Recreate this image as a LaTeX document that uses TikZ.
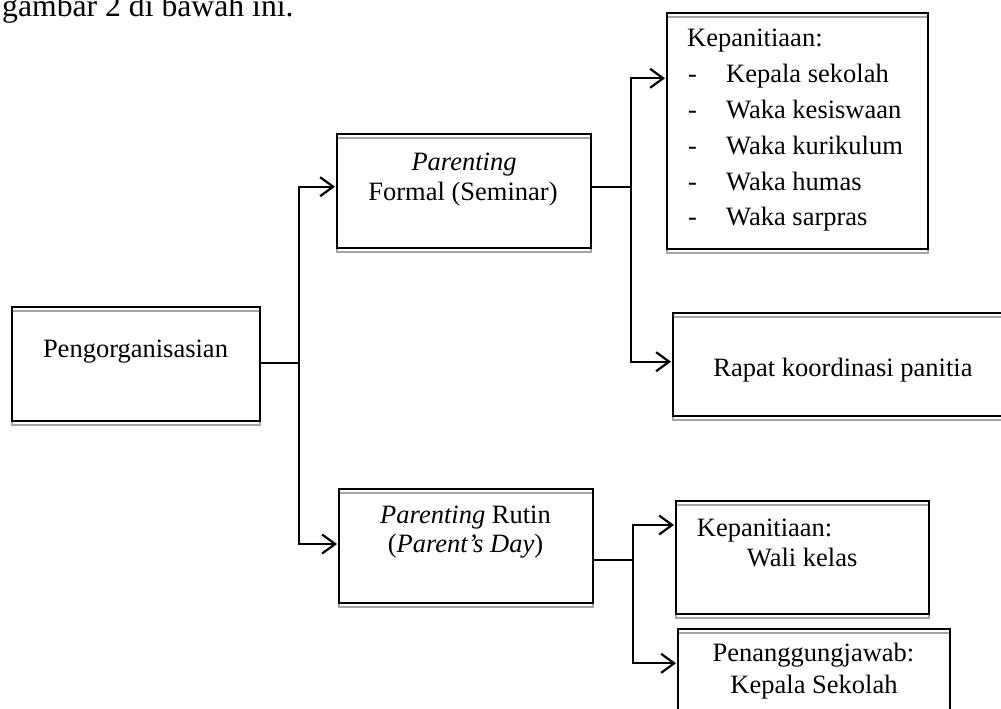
\documentclass[tikz,border=0pt]{standalone}
\usepackage{fontspec}
\setmainfont{Liberation Serif}
\usetikzlibrary{arrows.meta}
\begin{document}
\begin{tikzpicture}[x=1pt,y=-1pt,
  box/.style={draw=black, line width=2.2pt, inner sep=0pt,
    preaction={draw=black!35, line width=1.6pt, transform canvas={yshift=-4pt}}},
  txt/.style={inner sep=0pt, font=\fontsize{26.5}{30}\selectfont},
  line/.style={line width=2pt},
  arr/.style={line width=2pt, -{Straight Barb[length=13pt,width=19pt,line width=2.2pt]}}]
\useasboundingbox (0,0) rectangle (1001,709);

% heading text (cut off at the top)
\node[inner sep=0pt, font=\fontsize{31.7}{36}\selectfont, anchor=base west] (head) at (2,16.5) {gambar 2 di bawah ini.};

% boxes
\node[box, minimum width=248pt, minimum height=114pt] (peng) at (136,364) {};
\node[box, minimum width=254pt, minimum height=114pt] (formal) at (464,191) {};
\node[box, minimum width=261pt, minimum height=236pt] (kep) at (797.5,131) {};
\node[box, minimum width=337pt, minimum height=103pt] (rapat) at (841.5,364.5) {};
\node[box, minimum width=254pt, minimum height=114pt] (rutin) at (466,546) {};
\node[box, minimum width=253pt, minimum height=113pt] (wali) at (802.5,557.5) {};
\node[box, minimum width=272pt, minimum height=91pt] (pj) at (814,674.5) {};

% texts
\node[txt, anchor=base] (tpeng) at (135.5,357) {Pengorganisasian};
\node[txt, anchor=base] (tf1) at (464,170) {\itshape Parenting};
\node[txt, anchor=base] (tf2) at (463,200) {Formal (Seminar)};

\node[txt, anchor=base west] (tk0) at (687,46.7) {Kepanitiaan:};
\node[txt, anchor=base] (d1) at (692.5,82.7) {-};
\node[txt, anchor=base west] (tk1) at (726,82.7) {Kepala sekolah};
\node[txt, anchor=base] (d2) at (692.5,118.3) {-};
\node[txt, anchor=base west] (tk2) at (726,118.3) {Waka kesiswaan};
\node[txt, anchor=base] (d3) at (692.5,154) {-};
\node[txt, anchor=base west] (tk3) at (726,154) {Waka kurikulum};
\node[txt, anchor=base] (d4) at (692.5,190) {-};
\node[txt, anchor=base west] (tk4) at (726,190) {Waka humas};
\node[txt, anchor=base] (d5) at (692.5,225) {-};
\node[txt, anchor=base west] (tk5) at (726,225) {Waka sarpras};

\node[txt, anchor=base] (trapat) at (843,376) {Rapat koordinasi panitia};

\node[txt, anchor=base] (tr1) at (465.5,523) {\textit{Parenting} Rutin};
\node[txt, anchor=base] (tr2) at (465.5,552.7) {(\textit{Parent’s Day})};

\node[txt, anchor=base west] (tw1) at (696.7,536.7) {Kepanitiaan:};
\node[txt, anchor=base west] (tw2) at (746.7,566) {Wali kelas};

\node[txt, anchor=base] (tp1) at (813.5,661.7) {Penanggungjawab:};
\node[txt, anchor=base] (tp2) at (814,693) {Kepala Sekolah};

% connector coordinates
\coordinate (j1) at (298.5,363);
\coordinate (fin) at (335,186.7);
\coordinate (rin) at (337,544);
\coordinate (fout) at (591,186.7);
\coordinate (j2) at (631,186.7);
\coordinate (kin) at (665,78.3);
\coordinate (rpin) at (671,361.7);
\coordinate (rout) at (593,560);
\coordinate (j3) at (633.3,560);
\coordinate (win) at (674,525);
\coordinate (pin) at (676,663.3);

% connectors
\draw[line] (peng.east |- j1) -- (j1);
\draw[arr] (j1) |- (fin);
\draw[arr] (j1) |- (rin);
\draw[line] (fout) -- (j2);
\draw[arr] (j2) |- (kin);
\draw[arr] (j2) |- (rpin);
\draw[line] (rout) -- (j3);
\draw[arr] (j3) |- (win);
\draw[arr] (j3) |- (pin);
\end{tikzpicture}
\end{document}
